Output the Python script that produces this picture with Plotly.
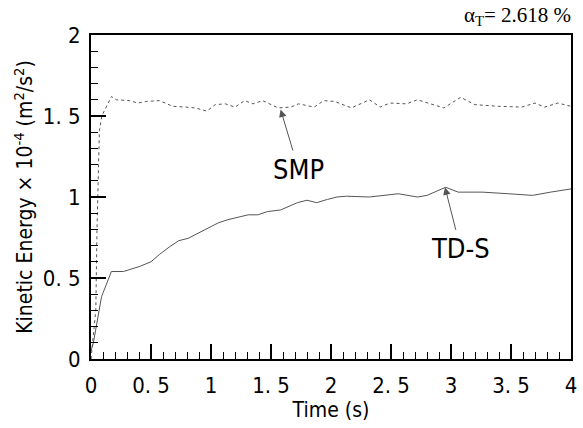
import plotly.graph_objects as go

# Data
tds_t = [0.0, 0.02, 0.088, 0.17, 0.27, 0.40, 0.50, 0.57, 0.65, 0.73, 0.81, 0.90, 0.98, 1.06, 1.14,
         1.23, 1.31, 1.39, 1.47, 1.58, 1.66, 1.72, 1.80, 1.88, 1.97, 2.05, 2.13, 2.32, 2.56, 2.72,
         2.80, 2.955, 3.06, 3.26, 3.48, 3.68, 3.83, 4.0]
tds_k = [0.05, 0.10, 0.385, 0.54, 0.54, 0.57, 0.60, 0.645, 0.69, 0.73, 0.745, 0.78, 0.81, 0.84, 0.86,
         0.875, 0.89, 0.89, 0.91, 0.92, 0.945, 0.965, 0.98, 0.965, 0.985, 1.0, 1.005, 1.0, 1.02, 1.0,
         1.01, 1.06, 1.03, 1.03, 1.02, 1.01, 1.03, 1.05]

smp_t = [0.0, 0.04, 0.05, 0.07, 0.09, 0.115, 0.17, 0.21, 0.32, 0.39, 0.46, 0.57, 0.68, 0.79, 0.87,
         0.965, 1.035, 1.12, 1.20, 1.28, 1.35, 1.43, 1.56, 1.665, 1.73, 1.86, 1.94, 2.03, 2.17,
         2.32, 2.41, 2.49, 2.63, 2.72, 2.94, 3.08, 3.20, 3.39, 3.59, 3.70, 3.78, 3.89, 4.0]
smp_k = [0.0, 0.3, 0.8, 1.41, 1.50, 1.54, 1.62, 1.60, 1.595, 1.58, 1.59, 1.595, 1.56, 1.555, 1.55,
         1.53, 1.57, 1.575, 1.555, 1.595, 1.575, 1.595, 1.55, 1.555, 1.575, 1.555, 1.595, 1.59, 1.55,
         1.60, 1.555, 1.58, 1.575, 1.60, 1.55, 1.615, 1.57, 1.56, 1.555, 1.58, 1.555, 1.58, 1.56]

x_ticks = [0, 0.5, 1, 1.5, 2, 2.5, 3, 3.5, 4]
x_ticktext = ["0", "0. 5", "1", "1. 5", "2", "2. 5", "3", "3. 5", "4"]
y_ticks = [0, 0.5, 1, 1.5, 2]
y_ticktext = ["0", "0. 5", "1", "1. 5", "2"]

narrow = "DejaVu Sans Condensed, DejaVu Sans, sans-serif"
line_col = "#555555"

fig = go.Figure()
fig.add_trace(go.Scatter(x=smp_t, y=smp_k, mode="lines", name="SMP",
                         line=dict(color=line_col, width=1, dash="dot")))
fig.add_trace(go.Scatter(x=tds_t, y=tds_k, mode="lines", name="TD-S",
                         line=dict(color=line_col, width=1)))

axis_common = dict(showgrid=False, zeroline=False, showline=True, linecolor="black",
                   linewidth=2, mirror=True, ticks="inside", ticklen=15, tickwidth=1.5,
                   tickcolor="black", tickfont=dict(family=narrow, size=22, color="black"))

fig.update_xaxes(range=[0, 4], tickvals=x_ticks, ticktext=x_ticktext,
                 minor=dict(dtick=0.1, ticks="inside", ticklen=7, tickcolor="black", tickwidth=1),
                 title=dict(text="Time (s)", font=dict(family=narrow, size=21, color="black"), standoff=2),
                 ticklabelstandoff=6, **axis_common)
fig.update_yaxes(range=[0, 2], tickvals=y_ticks, ticktext=y_ticktext,
                 minor=dict(dtick=0.1, ticks="inside", ticklen=7, tickcolor="black", tickwidth=1),
                 title=dict(text="Kinetic Energy \u00d7 10<sup>-4</sup> (m<sup>2</sup>/s<sup>2</sup>)",
                            font=dict(family=narrow, size=21, color="black"), standoff=4),
                 ticklabelstandoff=4, **axis_common)

# SMP label with arrow
fig.add_annotation(x=1.58, y=1.54, xref="x", yref="y", text="SMP", showarrow=True,
                   arrowhead=2, arrowsize=1.5, arrowwidth=1, arrowcolor="#555555",
                   ax=1.73, ay=1.17, axref="x", ayref="y", standoff=0, startstandoff=2,
                   font=dict(family=narrow, size=27, color="black"))

# TD-S label with arrow
fig.add_annotation(x=2.95, y=1.06, xref="x", yref="y", text="TD-S", showarrow=True,
                   arrowhead=2, arrowsize=1.5, arrowwidth=1, arrowcolor="#555555",
                   ax=3.08, ay=0.68, axref="x", ayref="y", standoff=0, startstandoff=2,
                   font=dict(family=narrow, size=27, color="black"))

# alpha_T label
fig.add_annotation(x=1, y=1, xref="paper", yref="paper", xanchor="right", yanchor="bottom",
                   yshift=4, xshift=2, text="\u03b1<sub>T</sub>= 2.618 %", showarrow=False,
                   font=dict(family="Liberation Serif, Times New Roman, serif", size=21, color="black"))

fig.update_layout(width=583, height=428, margin=dict(l=91, r=6, t=35, b=69),
                  plot_bgcolor="white", paper_bgcolor="white", showlegend=False)

fig.write_html("out.html")
